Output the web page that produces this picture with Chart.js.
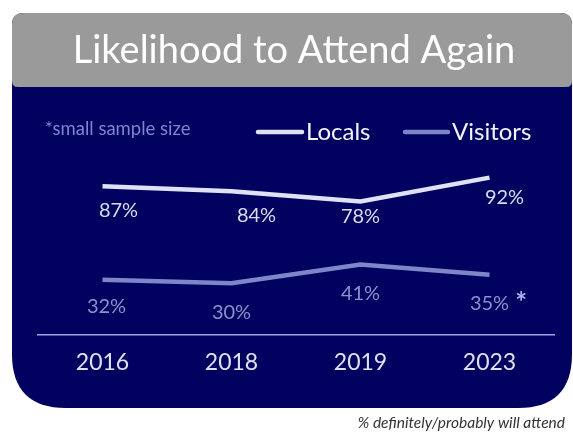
<!DOCTYPE html>
<html>
<head>
<meta charset="utf-8">
<script src="https://cdn.jsdelivr.net/npm/chart.js@4"></script>
<style>
  html, body { margin: 0; padding: 0; background: #ffffff; }
  #wrap { width: 573px; height: 445px; }
</style>
</head>
<body>
<div id="wrap"><canvas id="myChart" width="573" height="445"></canvas></div>
<script>
let years = ["2016", "2018", "2019", "2023"]
let locals = [87, 84, 78, 92]
let visitors = [32, 30, 41, 35]
let seriesNames = ["Locals", "Visitors"]
let smallSample = [false, false, false, true]   // visitors 2023 flagged with *

let navy = "#01015f"
let grey = "#9a9a9a"
let lineColors = ["#dfe2f4", "#7d86c8"]
let labelColors = ["#d9dcf0", "#8a91cc"]

// label nudges (dx, dy) from each point, per series
let labelShift = [
    [[16, 24], [25, 24], [0, 15], [15, 20]],
    [[4, 27], [0, 29], [0, 29.5], [0, 29]]
]

function roundBox(c, x, y, w, h, rt, rb) {
    c.beginPath()
    c.moveTo(x + rt, y)
    c.lineTo(x + w - rt, y)
    c.quadraticCurveTo(x + w, y, x + w, y + rt)
    c.lineTo(x + w, y + h - rb)
    c.quadraticCurveTo(x + w, y + h, x + w - rb, y + h)
    c.lineTo(x + rb, y + h)
    c.quadraticCurveTo(x, y + h, x, y + h - rb)
    c.lineTo(x, y + rt)
    c.quadraticCurveTo(x, y, x + rt, y)
    c.closePath()
}

let panel = {
    id: "panel",
    beforeDraw(chart) {
        let c = chart.ctx
        c.save()
        // dark card
        c.fillStyle = navy
        roundBox(c, 12, 13, 560, 395, 12, 54)
        c.fill()
        // grey header strip
        c.fillStyle = grey
        roundBox(c, 12, 13, 560, 74, 12, 6)
        c.fill()
        c.fillStyle = "#ffffff"
        c.font = "38px Lato"
        c.textAlign = "center"
        c.textBaseline = "alphabetic"
        c.fillText("Likelihood to Attend Again", 294, 63)

        // note + legend row
        c.textAlign = "left"
        c.fillStyle = "#7d86cc"
        c.font = "18.5px Lato"
        c.fillText("*small sample size", 45, 135)

        let keys = [[258, 302, 306], [405, 448, 452]]
        chart.data.datasets.forEach((ds, i) => {
            c.strokeStyle = ds.borderColor
            c.lineWidth = 4.5
            c.lineCap = "round"
            c.beginPath()
            c.moveTo(keys[i][0], 132)
            c.lineTo(keys[i][1], 132)
            c.stroke()
            c.fillStyle = "#f4f4fb"
            c.font = "24px Lato"
            c.fillText(ds.label, keys[i][2], 140)
        })

        // footnote under the card
        c.fillStyle = "#333333"
        c.font = "italic 15.5px Lato"
        c.textAlign = "right"
        c.fillText("% definitely/probably will attend", 565, 428)
        c.restore()
    },
    afterDatasetsDraw(chart) {
        let c = chart.ctx
        c.save()
        c.textAlign = "center"
        c.textBaseline = "middle"
        chart.data.datasets.forEach((ds, i) => {
            let meta = chart.getDatasetMeta(i)
            meta.data.forEach((pt, j) => {
                let x = pt.x + labelShift[i][j][0]
                let y = pt.y + labelShift[i][j][1]
                let txt = ds.data[j] + "%"
                c.font = "20px Lato"
                c.fillStyle = labelColors[i]
                c.fillText(txt, x, y)
                if (i === 1 && smallSample[j]) {
                    let w = c.measureText(txt).width
                    c.fillStyle = "#aab0f4"
                    c.font = "bold 28px Lato"
                    c.fillText("*", x + w / 2 + 12, y - 1)
                }
            })
        })
        c.restore()
    }
}

let ctx = document.getElementById("myChart").getContext("2d")

let myChart = new Chart(ctx, {
    type: "line",
    data: {
        labels: years,
        datasets: [
            {
                label: seriesNames[0],
                data: locals,
                borderColor: lineColors[0],
                borderWidth: 4.5,
                pointRadius: 0,
                tension: 0
            },
            {
                label: seriesNames[1],
                data: visitors,
                borderColor: lineColors[1],
                borderWidth: 4.5,
                pointRadius: 0,
                tension: 0
            }
        ]
    },
    options: {
        responsive: false,
        animation: false,
        layout: {
            padding: { top: 164, left: 38, right: 19, bottom: 55 }
        },
        plugins: {
            legend: { display: false },
            title: { display: false },
            tooltip: { enabled: false }
        },
        scales: {
            x: {
                offset: true,
                grid: { display: false, drawTicks: false },
                border: { display: true, color: "#9ea3dc", width: 1.5 },
                ticks: {
                    color: "#dfe1f1",
                    padding: 14,
                    font: { family: "Lato", size: 23 }
                }
            },
            y: {
                display: false,
                min: 0,
                max: 100
            }
        }
    },
    plugins: [panel]
})
</script>
</body>
</html>
